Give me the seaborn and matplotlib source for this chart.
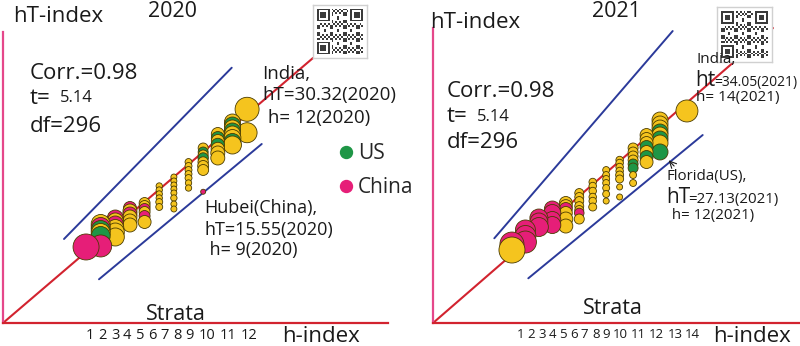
import numpy as np
import pandas as pd
import matplotlib
matplotlib.use("Agg")
import matplotlib.pyplot as plt
from matplotlib.lines import Line2D
import seaborn as sns

# ---------------- data ----------------
# 2020 panel : bubbles (h-index stratum, hT-index, bubble weight, group)
L_h = [12, 12,
       11, 11, 11, 11, 11, 11, 11, 11,
       10, 10, 10, 10, 10, 10, 10,
       9, 9, 9, 9, 9, 9, 9,
       8, 8, 8, 8, 8, 8, 8,
       7, 7, 7, 7, 7, 7, 7, 7,
       6, 6, 6, 6, 6, 6,
       5, 5, 5, 5, 5, 5,
       4, 4, 4, 4, 4, 4,
       3, 3, 3, 3, 3, 3,
       2, 2, 2, 2, 2, 2,
       1, 9]
L_hT = [30.33, 26.13,
        28.05, 27.51, 26.98, 26.44, 25.90, 25.18, 24.47, 23.93,
        25.90, 25.18, 24.65, 23.93, 23.21, 22.50, 21.60,
        23.39, 22.67, 22.14, 21.60, 20.88, 20.17, 19.45,
        20.88, 20.17, 19.45, 18.73, 18.01, 17.12, 16.22,
        18.19, 17.48, 16.76, 16.04, 15.33, 14.43, 13.35, 12.46,
        16.58, 15.86, 15.15, 14.43, 13.71, 12.82,
        13.53, 12.99, 12.46, 11.92, 11.20, 10.13,
        12.64, 12.10, 11.56, 11.02, 10.31, 9.59,
        10.84, 10.31, 9.77, 9.05, 8.33, 7.44,
        9.77, 9.23, 8.69, 8.16, 7.62, 5.83,
        5.65, 15.55]
L_w = [144, 100,
       64, 64, 64, 64, 64, 72, 72, 81,
       42, 42, 42, 45, 45, 49, 49,
       25, 25, 25, 27, 27, 30, 30,
       12, 12, 12, 12, 12, 10, 10,
       9, 9, 9, 9, 9, 10, 9, 9,
       10, 10, 10, 10, 12, 12,
       30, 30, 30, 30, 30, 42,
       42, 49, 49, 49, 49, 49,
       64, 64, 64, 72, 81, 81,
       90, 90, 90, 90, 90, 121,
       169, 6.25]
L_grp = ["Other", "Other",
         "Other", "US", "Other", "US", "Other", "Other", "US", "Other",
         "Other", "US", "Other", "US", "Other", "Other", "Other",
         "Other", "US", "Other", "US", "Other", "Other", "Other",
         "Other", "Other", "Other", "Other", "Other", "Other", "Other",
         "Other", "Other", "Other", "Other", "Other", "Other", "Other", "Other",
         "Other", "Other", "Other", "Other", "Other", "Other",
         "Other", "Other", "China", "Other", "China", "Other",
         "China", "Other", "China", "Other", "Other", "Other",
         "China", "Other", "China", "Other", "Other", "Other",
         "Other", "China", "US", "Other", "US", "China",
         "China", "China"]

# 2021 panel
R_h = [14,
       12, 12, 12, 12, 12, 12, 12, 12,
       11, 11, 11, 11, 11, 11, 11,
       10, 10, 10, 10, 10, 10, 10, 10,
       9, 9, 9, 9, 9, 9, 9, 9,
       8, 8, 8, 8, 8, 8, 8,
       7, 7, 7, 7, 7, 7,
       6, 6, 6, 6, 6, 6, 6,
       5, 5, 5, 5, 5, 5,
       4, 4, 4, 4,
       3, 3, 3,
       2, 2, 2,
       1, 1]
R_hT = [34.05,
        32.52, 31.85, 31.17, 30.50, 29.99, 29.32, 28.64, 27.13,
        29.99, 29.32, 28.64, 27.97, 27.12, 26.28, 25.43,
        27.80, 27.12, 26.45, 25.77, 25.10, 24.42, 23.24, 21.89,
        25.77, 25.27, 24.59, 23.92, 23.24, 22.57, 21.22, 19.53,
        24.08, 23.24, 22.57, 21.89, 21.05, 20.03, 18.85,
        22.06, 21.38, 20.54, 19.53, 18.85, 17.84,
        20.20, 19.53, 18.85, 17.99, 17.33, 16.83, 15.81,
        18.52, 17.99, 17.50, 16.83, 15.81, 14.63,
        17.50, 16.83, 15.65, 14.80,
        15.98, 15.31, 14.46,
        13.96, 12.95, 11.93,
        11.59, 10.58]
R_w = [121,
       64, 64, 64, 64, 64, 64, 64, 64,
       42, 42, 42, 42, 42, 42, 42,
       25, 25, 25, 25, 25, 25, 12, 12,
       14, 14, 14, 14, 16, 16, 9, 9,
       12, 12, 12, 12, 12, 12, 9,
       14, 14, 14, 14, 14, 16,
       20, 20, 20, 20, 20, 23, 25,
       42, 42, 42, 42, 49, 49,
       64, 72, 72, 72,
       81, 81, 90,
       100, 110, 121,
       144, 169]
R_grp = ["Other",
         "Other", "Other", "Other", "US", "Other", "US", "Other", "US",
         "Other", "Other", "Other", "US", "Other", "US", "Other",
         "Other", "Other", "Other", "Other", "US", "US", "Other", "Other",
         "Other", "Other", "Other", "Other", "Other", "Other", "Other", "Other",
         "Other", "Other", "Other", "Other", "Other", "Other", "Other",
         "Other", "Other", "Other", "Other", "Other", "Other",
         "Other", "Other", "Other", "Other", "Other", "China", "Other",
         "Other", "Other", "China", "Other", "Other", "Other",
         "China", "China", "China", "China",
         "China", "China", "China",
         "China", "China", "China",
         "China", "Other"]

# trend line and bands (h, hT end points)
L_trend_h, L_trend_hT = [-4.672, 16.50], [-7.976, 39.52]
L_up_h, L_up_hT = [-0.505, 10.95], [7.08, 37.78]
L_lo_h, L_lo_hT = [1.885, 13.00], [-0.14, 24.11]
R_trend_h, R_trend_hT = [-4.866, 20.39], [-1.738, 48.05]
R_up_h, R_up_hT = [-0.312, 12.94], [12.56, 47.54]
R_lo_h, R_lo_hT = [2.214, 15.17], [5.806, 29.99]

# stratum tick labels
L_tick_labels = [str(i) for i in range(1, 13)]
R_tick_labels = [str(i) for i in range(1, 15)]

# layout: where the stratum labels sit along the h axis (as in the figure)
L_tick_pos = [1.27, 2.11, 2.98, 3.80, 4.69, 5.53, 6.37, 7.23, 8.05, 9.24, 10.72, 12.15]
R_tick_pos = [1.65, 2.46, 3.28, 4.03, 4.81, 5.61, 6.37, 7.22, 7.99, 9.03, 10.39, 11.75, 13.12, 14.43]

# ---------------- style ----------------
sns.set_theme(style="white")
plt.rcParams["font.family"] = ["Open Sans", "DejaVu Sans"]

YEL, GRN, PNK = "#f5c41e", "#1e9646", "#e61e78"
pal = {"Other": YEL, "US": GRN, "China": PNK}
AX_PINK, AX_RED, BLUE = "#e5478a", "#d2232f", "#2b3a9a"
TXT = "#1a1a1a"
W_MIN, W_MAX = 6.25, 169.0
K = 2.0736  # px^2 -> pt^2 for radius

fig = plt.figure(figsize=(8.0, 3.46), dpi=100)
axL = fig.add_axes([0, 0, 0.5, 1])
axR = fig.add_axes([0.5, 0, 0.5, 1])


def setup(ax, xlim, ylim, ox, oy, ytop, xright, tpos, tlab, tsize):
    ax.set_xlim(*xlim)
    ax.set_ylim(*ylim)
    ax.patch.set_alpha(0)
    for s in ("top", "right"):
        ax.spines[s].set_visible(False)
    ax.spines["left"].set_position(("data", ox))
    ax.spines["bottom"].set_position(("data", oy))
    ax.spines["left"].set_bounds(oy, ytop)
    ax.spines["bottom"].set_bounds(ox, xright)
    ax.spines["left"].set_color(AX_PINK)
    ax.spines["bottom"].set_color(AX_RED)
    ax.spines["left"].set_linewidth(1.6)
    ax.spines["bottom"].set_linewidth(1.6)
    ax.set_yticks([])
    ax.set_xticks(tpos)
    ax.set_xticklabels(tlab)
    ax.tick_params(axis="x", length=0, pad=3.5, labelsize=tsize, colors=TXT)
    ax.set_xlabel("")
    ax.set_ylabel("")


def bubbles(ax, h, hT, w, grp):
    df = pd.DataFrame({"h": h, "hT": hT, "w": w, "group": grp})
    sns.scatterplot(data=df, x="h", y="hT", hue="group", palette=pal,
                    size="w", sizes=(W_MIN * K, W_MAX * K),
                    size_norm=(W_MIN, W_MAX), edgecolor="#4a3b00",
                    linewidth=0.6, legend=False, ax=ax, zorder=4)


# left panel
bubbles(axL, L_h, L_hT, L_w, L_grp)
axL.plot(L_trend_h, L_trend_hT, color=AX_RED, lw=1.5, zorder=2)
axL.plot(L_up_h, L_up_hT, color=BLUE, lw=1.4, zorder=2)
axL.plot(L_lo_h, L_lo_hT, color=BLUE, lw=1.4, zorder=2)
setup(axL, (-4.877, 22.445), (-12.1, 49.92), -4.672, -7.976, 44.18, 21.63,
      L_tick_pos, L_tick_labels, 10.5)

# right panel
bubbles(axR, R_h, R_hT, R_w, R_grp)
axR.plot(R_trend_h, R_trend_hT, color=AX_RED, lw=1.5, zorder=2)
axR.plot(R_up_h, R_up_hT, color=BLUE, lw=1.4, zorder=2)
axR.plot(R_lo_h, R_lo_hT, color=BLUE, lw=1.4, zorder=2)
setup(axR, (-7.318, 22.40), (-5.62, 52.78), -4.866, -1.738, 48.05, 22.40,
      R_tick_pos, R_tick_labels, 9.5)
axR.annotate("", xy=(12.50, 26.06), xytext=(13.19, 24.42),
             arrowprops=dict(arrowstyle="->", color=TXT, lw=0.8), zorder=6)


# ---------------- texts ----------------
def T(x, y, s, size, **kw):
    fig.text(x / 800, 1 - y / 346, s, fontsize=size, ha="left",
             va="baseline", color=TXT, zorder=20, **kw)


# left
T(13, 22, "hT-index", 16)
T(148, 16.7, "2020", 15.5)
T(30, 79, "Corr.=0.98", 16)
T(30, 104, "t=", 16)
T(60, 102, "5.14", 12)
T(30, 132, "df=296", 16)
T(262, 79, "India,", 13.5)
T(262, 100.5, "hT=30.32(2020)", 13.5)
T(263, 122.5, " h= 12(2020)", 13.5)
T(204, 213, "Hubei(China),", 13)
T(204, 235, "hT=15.55(2020)", 13)
T(205, 255, " h= 9(2020)", 13)
T(146, 320, "Strata", 15.5)
T(282, 342.5, "h-index", 16)

# right
T(430, 28.3, "hT-index", 16)
T(592, 16.7, "2021", 15.5)
T(447, 96.7, "Corr.=0.98", 16)
T(447, 122, "t=", 16)
T(477, 121, "5.14", 12)
T(447, 148.3, "df=296", 16)
T(696, 63.3, "India,", 11)
T(695, 86, "ht", 15)
T(714, 86, "=34.05(2021)", 10)
T(696, 101, "h= 14(2021)", 11)
T(667, 180, "Florida(US),", 10.8)
T(666, 202.5, "hT", 15)
T(688, 202.5, "=27.13(2021)", 10.8)
T(668, 218.5, " h= 12(2021)", 10.8)
T(583, 314.3, "Strata", 15.5)
T(713, 342.5, "h-index", 16)

# legend (US / China)
handles = [Line2D([], [], marker="o", ls="", markersize=8.6, color=GRN),
           Line2D([], [], marker="o", ls="", markersize=8.6, color=PNK)]
fig.legend(handles, ["US", "China"], loc="upper left",
           bbox_to_anchor=(340 / 800, 1 - 143 / 346), frameon=False,
           fontsize=15, handlelength=0.6, handletextpad=0.25,
           labelspacing=0.62, borderaxespad=0, borderpad=0)

# ---------------- QR-like code boxes ----------------
n = 25
ii, jj = np.meshgrid(np.arange(n), np.arange(n), indexing="ij")
qr = (((ii * ii * 3 + jj * jj * 5 + ii * jj * 7 + ii + 2 * jj) % 7) < 3).astype(float)
for (r, c) in [(0, 0), (0, n - 7), (n - 7, 0)]:
    r0, r1 = max(r - 1, 0), min(r + 8, n)
    c0, c1 = max(c - 1, 0), min(c + 8, n)
    qr[r0:r1, c0:c1] = 0
    qr[r:r + 7, c:c + 7] = 1
    qr[r + 1:r + 6, c + 1:c + 6] = 0
    qr[r + 2:r + 5, c + 2:c + 5] = 1


def qrbox(x0, y0, x1, y1):
    ax = fig.add_axes([x0 / 800, 1 - y1 / 346, (x1 - x0) / 800, (y1 - y0) / 346],
                      zorder=1)
    ax.imshow(np.pad(qr, 2), cmap="gray_r", interpolation="nearest",
              vmin=0, vmax=1.3, aspect="auto")
    ax.set_xticks([])
    ax.set_yticks([])
    for s in ax.spines.values():
        s.set_color("#d0d0d0")
        s.set_linewidth(1.0)


qrbox(313, 5, 367, 58)
qrbox(717, 7, 772, 62)

fig.savefig("out.png", dpi=100)
